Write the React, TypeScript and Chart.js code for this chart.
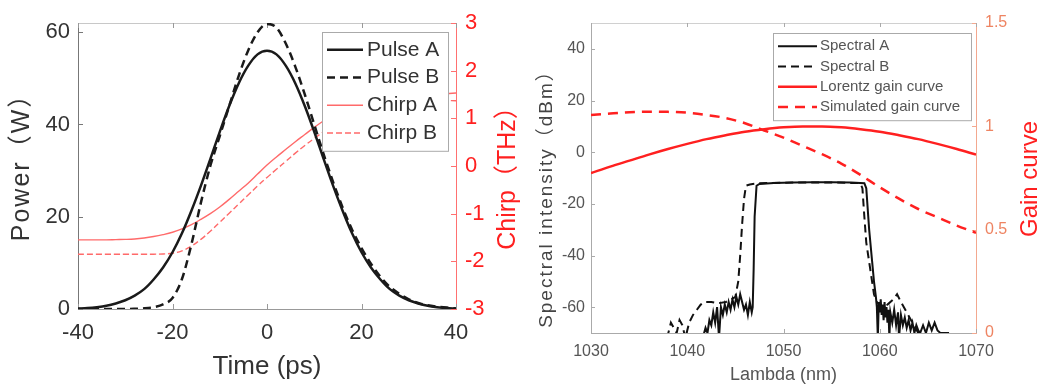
import React, { useEffect, useRef } from 'react';
import { Chart, registerables } from 'chart.js';
Chart.register(...registerables);

const FONT = '"Liberation Sans", "Noto Sans CJK SC", Arial, sans-serif';

// ---------- Left panel data ----------
const timePs = [-40,-38,-36,-34,-32,-30,-28,-26,-24,-22,-20,-18,-16,-14,-12,-10,-8,-6,-4,-2,0,2,4,6,8,10,12,14,16,18,20,22,24,26,28,30,32,34,36,38,40];
const pulseA = [0.1,0.2,0.4,0.7,1.2,1.9,2.9,4.3,6.4,9.0,12.3,16.4,21.3,26.7,32.5,38.4,44.0,48.9,52.7,55.2,56.0,55.2,52.7,48.9,44.0,38.4,32.5,26.7,21.3,16.4,12.3,9.0,6.4,4.3,2.9,1.9,1.2,0.7,0.4,0.2,0.1];
const pulseB = [0,0,0,0,0,0,0.05,0.15,0.4,1.0,2.4,6.5,14,23,31,37.5,44,50.5,56,60,61.8,61,57.5,52.5,46.5,40,33.5,27.5,22,17.2,13.2,9.8,7.0,4.8,3.3,2.1,1.3,0.8,0.5,0.3,0.1];
const chirpA = [-1.55,-1.55,-1.55,-1.55,-1.545,-1.54,-1.53,-1.51,-1.48,-1.44,-1.39,-1.32,-1.23,-1.12,-1.00,-0.86,-0.70,-0.53,-0.36,-0.17,0.02,0.19,0.35,0.51,0.66,0.81,0.95,1.07,1.17,1.25,1.32,1.37,1.41,1.44,1.47,1.49,1.50,1.51,1.52,1.52,1.53];
const chirpB = [-1.85,-1.85,-1.85,-1.85,-1.85,-1.85,-1.85,-1.85,-1.85,-1.845,-1.83,-1.78,-1.68,-1.54,-1.37,-1.18,-0.99,-0.80,-0.61,-0.42,-0.24,-0.07,0.10,0.27,0.43,0.58,0.72,0.85,0.96,1.05,1.12,1.18,1.23,1.27,1.30,1.32,1.34,1.35,1.36,1.37,1.37];
const timeTicks = [-40,-20,0,20,40];
const powerTicks = [0,20,40,60];
const chirpTicks = [-3,-2,-1,0,1,2,3];

// ---------- Right panel data ----------
const spectralANm = [1041.6,1041.9,1042.1,1042.3,1042.5,1042.7,1042.9,1043.1,1043.3,1043.5,1043.7,1043.9,1044.1,1044.3,1044.5,1044.7,1044.9,1045.1,1045.3,1045.5,1045.7,1045.9,1046.1,1046.3,1046.5,1046.7,1046.8,1046.9,1047.0,1047.2,1047.5,1049,1051,1053,1055,1057,1058.4,1058.6,1058.9,1059.2,1059.4,1059.6,1059.7,1059.8,1059.9,1060.0,1060.1,1060.2,1060.3,1060.4,1060.5,1060.6,1060.7,1060.8,1060.9,1061.0,1061.1,1061.3,1061.5,1061.7,1061.9,1062.0,1062.2,1062.4,1062.6,1062.8,1063.0,1063.2,1063.4,1063.6,1063.8,1064.0,1064.2,1064.5,1064.8,1065.1,1065.4,1065.7,1066.0,1066.3,1066.7,1067.2];
const spectralADbm = [-72,-68,-70,-65,-67,-62,-66,-60,-72,-60,-63,-59,-62,-58,-61,-57,-60,-56,-59,-55,-58,-61,-59,-63,-58,-62,-60,-45,-25,-13,-12.3,-11.9,-11.7,-11.6,-11.6,-11.7,-12,-14,-30,-42,-50,-56,-60,-72,-58,-62,-57,-63,-59,-65,-58,-64,-60,-66,-61,-72,-62,-66,-61,-67,-62,-72,-63,-67,-64,-68,-65,-69,-66,-70,-67,-69,-70,-67,-70,-66,-69,-66,-69,-70,-70,-70];
const spectralBNm = [1037.9,1038.3,1038.6,1038.9,1039.2,1039.5,1039.8,1040.2,1040.6,1041.0,1041.4,1041.8,1042.5,1043.2,1044.0,1044.6,1045.0,1045.3,1045.5,1045.7,1045.9,1046.1,1046.5,1047.5,1050,1055,1058,1058.2,1058.4,1058.6,1058.8,1059.0,1059.2,1059.4,1059.7,1060.2,1060.8,1061.4,1061.8,1062.2,1062.8,1063.4,1064.0,1064.3];
const spectralBDbm = [-72,-66,-68,-70,-65,-67,-72,-66,-63,-61,-59,-58,-58,-58.5,-58,-57,-56,-50,-40,-28,-18,-13,-12.5,-12,-11.8,-11.7,-12,-14,-25,-35,-40,-45,-50,-55,-58,-60,-59,-57,-55,-58,-62,-66,-70,-72];
const gainNm = [1030,1032,1034,1036,1038,1040,1042,1044,1046,1048,1050,1052,1054,1056,1058,1060,1062,1064,1066,1068,1070];
const lorentzGain = [0.774,0.805,0.834,0.863,0.890,0.915,0.938,0.957,0.974,0.986,0.995,0.9995,0.9995,0.995,0.986,0.974,0.957,0.938,0.915,0.890,0.863];
const simulatedGain = [1.055,1.062,1.068,1.071,1.070,1.066,1.055,1.04,1.015,0.98,0.945,0.905,0.865,0.82,0.765,0.705,0.65,0.60,0.56,0.52,0.485];
const lambdaTicks = [1030,1040,1050,1060,1070];
const intensityTicks = [-60,-40,-20,0,20,40];
const gainTicks = [0,0.5,1,1.5];

const zip = (xs: number[], ys: number[]) => xs.map((x, i) => ({ x, y: ys[i] }));
const fixTicks = (arr: number[]) => (scale: any) => { scale.ticks = arr.map((v) => ({ value: v })); };

// Legend drawn inside the plot with opaque white box (MATLAB style)
const boxLegend = {
  id: 'boxLegend',
  afterDatasetsDraw(chart: any, _a: any, o: any) {
    const { ctx, chartArea } = chart;
    const ds = chart.data.datasets;
    const x0 = chartArea.right - o.right - o.width;
    const y0 = chartArea.top + o.top;
    const h = o.rowHeight * ds.length + o.padY * 2;
    ctx.save();
    ctx.fillStyle = '#fff';
    ctx.fillRect(x0, y0, o.width, h);
    ctx.strokeStyle = o.borderColor;
    ctx.lineWidth = 1;
    ctx.strokeRect(Math.round(x0) + 0.5, Math.round(y0) + 0.5, o.width, h);
    ds.forEach((d: any, i: number) => {
      const cy = y0 + o.padY + o.rowHeight * (i + 0.5);
      ctx.beginPath();
      ctx.setLineDash(d.borderDash || []);
      ctx.strokeStyle = d.borderColor;
      ctx.lineWidth = d.borderWidth;
      ctx.moveTo(x0 + o.lineStart, cy);
      ctx.lineTo(x0 + o.lineStart + o.lineLen, cy);
      ctx.stroke();
      ctx.setLineDash([]);
      ctx.fillStyle = o.color;
      ctx.font = `${o.size}px ${FONT}`;
      ctx.textAlign = 'left';
      ctx.textBaseline = 'middle';
      ctx.fillText(d.label, x0 + o.textStart, cy);
    });
    ctx.restore();
  },
};

// Vertical axis titles reading bottom-to-top on both sides
const sideTitles = {
  id: 'sideTitles',
  afterDraw(chart: any, _a: any, o: any) {
    const { ctx, chartArea } = chart;
    (o.items || []).forEach((it: any) => {
      ctx.save();
      ctx.translate(it.x, (chartArea.top + chartArea.bottom) / 2 + (it.dy || 0));
      ctx.rotate(-Math.PI / 2);
      ctx.font = `${it.size}px ${FONT}`;
      if (it.spacing) { try { (ctx as any).letterSpacing = `${it.spacing}px`; } catch (e) { /* ignore */ } }
      ctx.fillStyle = it.color;
      ctx.textAlign = 'center';
      ctx.textBaseline = 'middle';
      ctx.fillText(it.text, 0, 0);
      ctx.restore();
    });
  },
};

// Box top edge and inward tick marks
const frameTicks = {
  id: 'frameTicks',
  beforeDatasetsDraw(chart: any, _a: any, o: any) {
    const { ctx, chartArea: ca, scales } = chart;
    const L = o.len;
    ctx.save();
    ctx.lineWidth = 1;
    ctx.strokeStyle = o.topColor;
    ctx.beginPath();
    ctx.moveTo(ca.left, ca.top + 0.5);
    ctx.lineTo(ca.right, ca.top + 0.5);
    ctx.stroke();
    ctx.strokeStyle = o.xColor;
    scales.x.ticks.forEach((t: any) => {
      const px = Math.round(scales.x.getPixelForValue(t.value)) + 0.5;
      ctx.beginPath();
      ctx.moveTo(px, ca.bottom); ctx.lineTo(px, ca.bottom - L);
      ctx.moveTo(px, ca.top); ctx.lineTo(px, ca.top + L);
      ctx.stroke();
    });
    ctx.strokeStyle = o.yColor;
    scales.y.ticks.forEach((t: any) => {
      const py = Math.round(scales.y.getPixelForValue(t.value)) + 0.5;
      ctx.beginPath(); ctx.moveTo(ca.left, py); ctx.lineTo(ca.left + L, py); ctx.stroke();
    });
    ctx.strokeStyle = o.y1Color;
    scales.y1.ticks.forEach((t: any) => {
      const py = Math.round(scales.y1.getPixelForValue(t.value)) + 0.5;
      ctx.beginPath(); ctx.moveTo(ca.right, py); ctx.lineTo(ca.right - L, py); ctx.stroke();
    });
    ctx.restore();
  },
};

function leftConfig(): any {
  const tickFont = { size: 22, family: FONT };
  return {
    type: 'line',
    data: {
      datasets: [
        { label: 'Pulse A', data: zip(timePs, pulseA), borderColor: '#1a1a1a', borderWidth: 2.5, yAxisID: 'y', cubicInterpolationMode: 'monotone' },
        { label: 'Pulse B', data: zip(timePs, pulseB), borderColor: '#1a1a1a', borderWidth: 2.5, borderDash: [8, 5], yAxisID: 'y', cubicInterpolationMode: 'monotone' },
        { label: 'Chirp A', data: zip(timePs, chirpA), borderColor: '#ff6a6a', borderWidth: 1.4, yAxisID: 'y1', tension: 0.4 },
        { label: 'Chirp B', data: zip(timePs, chirpB), borderColor: '#ff6a6a', borderWidth: 1.4, borderDash: [6, 3], yAxisID: 'y1', tension: 0.4 },
      ],
    },
    options: {
      responsive: false,
      animation: false,
      devicePixelRatio: 1,
      layout: { padding: { top: 23, left: 0, right: 0, bottom: 0 } },
      elements: { point: { radius: 0 } },
      plugins: {
        legend: { display: false },
        tooltip: { enabled: false },
        boxLegend: { right: 8, top: 9, width: 126, rowHeight: 27.7, padY: 4, lineStart: 5, lineLen: 36, textStart: 45, size: 21, color: '#333', borderColor: '#aaa' },
        sideTitles: { items: [
          { text: 'Power（W）', x: 22, dy: -5, size: 25, spacing: 2, color: '#333' },
          { text: 'Chirp（THz）', x: 508, dy: 6, size: 25, color: '#ff2020' },
        ] },
        frameTicks: { len: 5, topColor: '#c8c8c8', xColor: '#999', yColor: '#777', y1Color: '#ff7070' },
      },
      scales: {
        x: {
          type: 'linear', min: -40, max: 40,
          afterBuildTicks: fixTicks(timeTicks),
          afterFit: (s: any) => { s.height = 76; },
          grid: { display: false, drawTicks: false },
          border: { display: true, color: '#999', width: 1 },
          ticks: { color: '#333', font: tickFont, padding: 11, maxRotation: 0, callback: (v: any) => String(v) },
          title: { display: true, text: 'Time (ps)', color: '#333', font: { size: 26, family: FONT, lineHeight: 1 }, padding: { top: 0, bottom: 5 } },
        },
        y: {
          type: 'linear', position: 'left', min: 0, max: 62,
          afterBuildTicks: fixTicks(powerTicks),
          afterFit: (s: any) => { s.width = 78; },
          grid: { display: false, drawTicks: false },
          border: { display: true, color: '#777', width: 1 },
          ticks: { color: '#333', font: tickFont, padding: 8, callback: (v: any) => String(v) },
        },
        y1: {
          type: 'linear', position: 'right', min: -3, max: 3,
          afterBuildTicks: fixTicks(chirpTicks),
          afterFit: (s: any) => { s.width = 74; },
          grid: { display: false, drawTicks: false },
          border: { display: true, color: '#ff7070', width: 1 },
          ticks: { color: '#ff2020', font: tickFont, padding: 9, callback: (v: any) => String(v) },
        },
      },
    },
    plugins: [frameTicks, boxLegend, sideTitles],
  };
}

function rightConfig(): any {
  const tickFont = { size: 16, family: FONT };
  return {
    type: 'line',
    data: {
      datasets: [
        { label: 'Spectral A', data: zip(spectralANm, spectralADbm), borderColor: '#111', borderWidth: 2, yAxisID: 'y', clip: 0 },
        { label: 'Spectral B', data: zip(spectralBNm, spectralBDbm), borderColor: '#111', borderWidth: 2, borderDash: [8, 5], yAxisID: 'y', clip: 0 },
        { label: 'Lorentz gain curve', data: zip(gainNm, lorentzGain), borderColor: '#ff2020', borderWidth: 2.5, yAxisID: 'y1', cubicInterpolationMode: 'monotone' },
        { label: 'Simulated gain curve', data: zip(gainNm, simulatedGain), borderColor: '#ff2020', borderWidth: 2.5, borderDash: [10, 7], yAxisID: 'y1', cubicInterpolationMode: 'monotone' },
      ],
    },
    options: {
      responsive: false,
      animation: false,
      devicePixelRatio: 1,
      layout: { padding: { top: 23, left: 0, right: 0, bottom: 0 } },
      elements: { point: { radius: 0 } },
      plugins: {
        legend: { display: false },
        tooltip: { enabled: false },
        boxLegend: { right: 5, top: 10, width: 198, rowHeight: 20.3, padY: 3, lineStart: 5, lineLen: 39, textStart: 47, size: 15, color: '#555', borderColor: '#aaa' },
        sideTitles: { items: [
          { text: 'Spectral intensity（dBm）', x: 27, dy: 16, size: 19, spacing: 2, color: '#444' },
          { text: 'Gain curve', x: 510, dy: 1, size: 24, color: '#ff2020' },
        ] },
        frameTicks: { len: 4, topColor: '#d0d0d0', xColor: '#aaa', yColor: '#aaa', y1Color: '#f3a88f' },
      },
      scales: {
        x: {
          type: 'linear', min: 1030, max: 1070,
          afterBuildTicks: fixTicks(lambdaTicks),
          afterFit: (s: any) => { s.height = 52; },
          grid: { display: false, drawTicks: false },
          border: { display: true, color: '#aaa', width: 1 },
          ticks: { color: '#555', font: tickFont, padding: 8.5, maxRotation: 0, callback: (v: any) => String(v) },
          title: { display: true, text: 'Lambda (nm)', color: '#555', font: { size: 18, family: FONT, lineHeight: 1 }, padding: { top: 0, bottom: 1 } },
        },
        y: {
          type: 'linear', position: 'left', min: -70, max: 50,
          afterBuildTicks: fixTicks(intensityTicks),
          afterFit: (s: any) => { s.width = 71; },
          grid: { display: false, drawTicks: false },
          border: { display: true, color: '#aaa', width: 1 },
          ticks: { color: '#555', font: tickFont, padding: 6, callback: (v: any) => String(v) },
        },
        y1: {
          type: 'linear', position: 'right', min: 0, max: 1.5,
          afterBuildTicks: fixTicks(gainTicks),
          afterFit: (s: any) => { s.width = 67; },
          grid: { display: false, drawTicks: false },
          border: { display: true, color: '#f3a88f', width: 1 },
          ticks: { color: '#ee8462', font: tickFont, padding: 9, callback: (v: any) => String(v) },
        },
      },
    },
    plugins: [frameTicks, boxLegend, sideTitles],
  };
}

export default function App() {
  const leftRef = useRef<HTMLCanvasElement>(null);
  const rightRef = useRef<HTMLCanvasElement>(null);
  useEffect(() => {
    const c1 = new Chart(leftRef.current as HTMLCanvasElement, leftConfig());
    const c2 = new Chart(rightRef.current as HTMLCanvasElement, rightConfig());
    return () => { c1.destroy(); c2.destroy(); };
  }, []);
  return (
    <div style={{ position: 'absolute', left: 0, top: 0, width: 1043, height: 385, background: '#fff', overflow: 'hidden' }}>
      <canvas ref={leftRef} width={530} height={385} style={{ position: 'absolute', left: 0, top: 0, width: 530, height: 385 }} />
      <canvas ref={rightRef} width={523} height={385} style={{ position: 'absolute', left: 520, top: 0, width: 523, height: 385 }} />
    </div>
  );
}
